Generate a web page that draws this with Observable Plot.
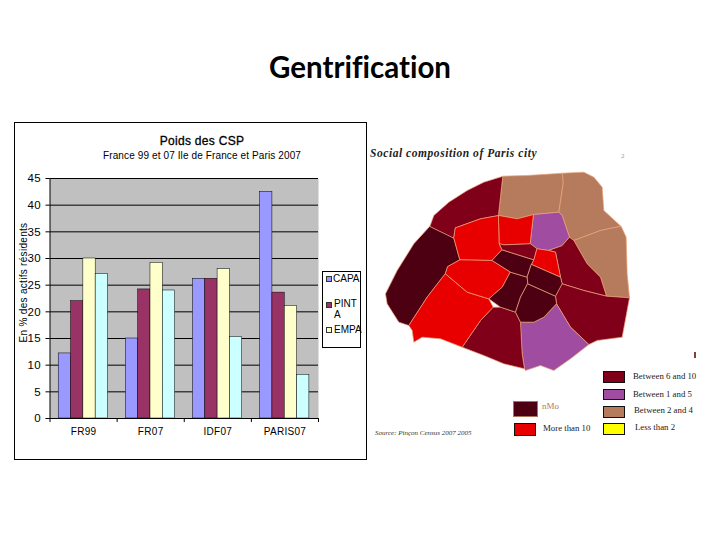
<!DOCTYPE html>
<html><head><meta charset="utf-8">
<script src="https://cdn.jsdelivr.net/npm/d3@7"></script>
<script src="https://cdn.jsdelivr.net/npm/@observablehq/plot@0.6"></script>
<style>
html,body{margin:0;padding:0;background:#fff;width:720px;height:540px;overflow:hidden;position:relative}
.t{position:absolute;white-space:nowrap;line-height:1}
.a{font-family:"Liberation Sans",Arial,sans-serif;color:#000}
.s{font-family:"Liberation Serif",serif;color:#222}
.box{position:absolute;box-sizing:border-box}
svg{display:block;background:transparent}
#chart,#map{position:absolute}
</style></head><body>
<div class="t" id="title" style="left:0;width:720px;text-align:center;top:49px;font:700 29.5px Lato,sans-serif;font-variant-ligatures:none;color:#000">Gentrification</div>
<div id="chart" style="left:14px;top:122px"></div>
<div id="map" style="left:370px;top:140px"></div>
<script>
// Bar chart data
const groups = ["FR99","FR07","IDF07","PARIS07"];
const seriesNames = ["CAPA","PINTA","EMPA","serie4"];
const capa = [12.2,15,26.2,42.5];
const pinta = [22,24.2,26.2,23.6];
const empa = [30,29.2,28,21.1];
const serie4 = [27.1,24,15.3,8.2];
const seriesColors = ["#9999ff","#993366","#ffffcc","#ccffff"];
const yTicks = [0,5,10,15,20,25,30,35,40,45];
const legendLabels = ["CAPA","PINT","A","EMPA"];

// Map data: arrondissement outlines, in the map image's own coordinates
const classes = {dark:"#7f0018",brown:"#b67b5c",purple:"#a04ca0",red:"#e80000",darkest:"#4d0012",yellow:"#ffff00"};
const d17 = [[178,258],[190,225],[235,185],[290,150],[340,125],[398,107],[385,225],[330,235],[255,262],[250,293]];
const d18 = [[398,107],[470,105],[577,98],[578,130],[565,215],[490,222],[440,235],[385,225]];
const d19 = [[577,98],[640,95],[670,110],[695,140],[700,210],[752,258],[690,270],[610,300],[597,290],[575,225],[565,215],[578,130]];
const d20 = [[752,258],[767,290],[770,400],[777,472],[708,467],[690,410],[650,370],[610,300],[690,270]];
const d16 = [[178,258],[250,293],[268,358],[232,378],[225,400],[170,470],[115,555],[85,545],[50,490],[45,460],[80,390],[130,310]];
const d8 = [[255,262],[330,235],[385,225],[387,310],[395,328],[365,360],[268,358],[250,293]];
const d9 = [[385,225],[440,235],[490,222],[480,310],[400,313],[387,310]];
const d10 = [[490,222],[565,215],[575,225],[597,290],[575,315],[535,330],[500,325],[480,310]];
const d11 = [[575,315],[597,290],[610,300],[650,370],[690,410],[708,467],[640,450],[575,430],[570,410],[555,335],[535,330]];
const d12 = [[575,430],[640,450],[708,467],[777,472],[755,590],[680,600],[655,612],[600,560],[558,490],[555,467]];
const d13 = [[450,545],[490,545],[520,530],[558,490],[600,560],[655,612],[600,655],[550,690],[510,675],[465,690],[462,685],[455,640]];
const d14 = [[368,500],[390,500],[435,515],[450,545],[455,640],[462,685],[400,670],[340,645],[275,620],[330,540]];
const d15 = [[225,400],[290,455],[355,475],[368,500],[330,540],[275,620],[210,595],[155,590],[130,605],[125,570],[115,555],[170,470]];
const d7 = [[232,378],[268,358],[365,360],[420,395],[395,440],[355,475],[290,455],[225,400]];
const d6 = [[420,395],[470,410],[472,430],[450,470],[435,515],[390,500],[355,475],[395,440]];
const d5 = [[472,430],[555,467],[558,490],[520,530],[490,545],[450,545],[435,515],[450,470]];
const d1 = [[395,328],[490,358],[483,372],[470,410],[420,395],[365,360]];
const d2 = [[387,310],[400,313],[480,310],[500,325],[490,358],[395,328]];
const d3 = [[500,325],[535,330],[555,335],[570,410],[483,372],[490,358]];
const d4 = [[483,372],[570,410],[575,430],[555,467],[472,430],[470,410]];
const districts = [[d17,"dark"],[d18,"brown"],[d19,"brown"],[d20,"brown"],[d16,"darkest"],[d8,"red"],[d9,"red"],[d10,"purple"],[d11,"dark"],[d12,"dark"],[d13,"purple"],[d14,"dark"],[d15,"red"],[d7,"red"],[d6,"darkest"],[d5,"darkest"],[d1,"darkest"],[d2,"dark"],[d3,"red"],[d4,"darkest"]];
const mapTitle = "Social composition of Paris city";
const mapSource = "Source: Pinçon Census 2007 2005";
const keyLabels = ["Between 6 and 10","Between 1 and 5","Between 2 and 4","Less than 2","More than 10"];

// Chart
const rows = groups.flatMap((g,i)=>[capa,pinta,empa,serie4].map((a,j)=>({g,i,j,v:a[i],name:seriesNames[j]})));
const off = 0.13, bw = 0.1835;
const chart = Plot.plot({
  width:352,height:337,
  marginLeft:35.5,marginRight:48,marginTop:56,marginBottom:41,
  style:{background:"transparent",overflow:"visible"},
  x:{domain:[0,4],axis:null},
  y:{domain:[0,45],axis:null},
  color:{domain:seriesNames,range:seriesColors},
  marks:[
    Plot.frame({fill:"#c0c0c0",stroke:null}),
    Plot.ruleY(yTicks,{stroke:"#000",strokeWidth:1}),
    Plot.rectY(rows,{x1:d=>d.i+off+d.j*bw,x2:d=>d.i+off+(d.j+1)*bw,y1:0,y2:"v",fill:"name",stroke:"#000",strokeWidth:0.5}),
    Plot.axisY({ticks:yTicks,anchor:"left",tickSize:4,label:null,fontSize:11.5,tickPadding:5,stroke:"#000",fill:"#000"}),
    Plot.ruleX([0],{stroke:"#000"}),
    Plot.ruleY([0],{stroke:"#000"}),
    Plot.ruleX([0,1,2,3,4],{x:d=>d,y1:-0.75,y2:0,stroke:"#000"}),
    Plot.text(groups,{x:(d,i)=>i+0.5,y:0,dy:13,text:d=>d,fontSize:10,fill:"#000",lineAnchor:"middle"}),
    Plot.text(["En % des actifs résidents"],{frameAnchor:"left",textAnchor:"middle",dx:-26,dy:-16,rotate:-90,fontSize:10,fill:"#000"})
  ]
});
chart.style.fontFamily='"Liberation Sans",Arial,sans-serif';
chart.querySelectorAll("text").forEach(t=>t.style.letterSpacing="0.3px");
document.getElementById("chart").append(chart);

// Map
const geo = {type:"FeatureCollection",features:districts.map(([c,k])=>({type:"Feature",properties:{k},geometry:{type:"Polygon",coordinates:[[...c,c[0]]]}}))};
const imageProjection = {stream:s=>({
  point(x,y){s.point(x/3,y/3)},sphere(){if(s.sphere)s.sphere()},
  lineStart(){s.lineStart()},lineEnd(){s.lineEnd()},
  polygonStart(){s.polygonStart()},polygonEnd(){s.polygonEnd()}
})};
const map = Plot.plot({
  width:270,height:240,margin:0,
  style:{background:"transparent"},
  projection:imageProjection,
  marks:[Plot.geo(geo,{fill:d=>classes[d.properties.k],stroke:"#e9a27a",strokeWidth:0.7})]
});
document.getElementById("map").append(map);

// Page furniture
function el(cls,txt,css){const d=document.createElement("div");d.className=cls;d.textContent=txt;d.style.cssText=css;document.body.append(d);return d;}
el("box","","left:14px;top:122px;width:353px;height:338px;border:1px solid #000");
el("t a","Poids des CSP","left:26px;width:352px;text-align:center;top:135px;font-size:12px;letter-spacing:.3px;-webkit-text-stroke:0.3px #000");
el("t a","France 99 et 07 Ile de France et Paris 2007","left:26px;width:352px;text-align:center;top:151px;font-size:10px;letter-spacing:.12px");
// chart legend
el("box","","left:322px;top:271px;width:39px;height:77px;border:1px solid #000;background:#fff");
[[seriesColors[0],276],[seriesColors[1],302],[seriesColors[2],327]].forEach(([c,y])=>el("box","",`left:326px;top:${y}px;width:6px;height:6px;border:.7px solid #333;background:${c}`));
el("t a",legendLabels[0],"left:333px;top:274px;font-size:10px");
el("t a",legendLabels[1],"left:334px;top:299px;font-size:10px");
el("t a",legendLabels[2],"left:334px;top:310px;font-size:10px");
el("t a",legendLabels[3],"left:334px;top:325px;font-size:10px");
// map text
el("t s",mapTitle,"left:370px;top:147px;font:italic 700 11.5px 'Liberation Serif',serif;letter-spacing:.55px;color:#222");
[[603,371,22,12,"dark"],[603,389,22,11,"purple"],[603,406,22,11.5,"brown"],[603,423,22,12,"yellow"],[514,423,21.5,12.5,"red"]].forEach(([x,y,w,h,k])=>el("box","",`left:${x}px;top:${y}px;width:${w}px;height:${h}px;border:1px solid #111;background:${classes[k]}`));
el("box","",`left:513px;top:401px;width:25px;height:16px;border:1px solid #a9745a;background:${classes.darkest}`);
[[keyLabels[0],633,372],[keyLabels[1],633,390],[keyLabels[2],634,406],[keyLabels[3],635,423],[keyLabels[4],543,424]].forEach(([t,x,y])=>el("t s",t,`left:${x}px;top:${y}px;font-size:8.8px;letter-spacing:0`));
el("t s","nMo","left:542px;top:402px;font-size:9px;color:#b67b5c");
el("t s","2","left:621px;top:153px;font-size:7px;color:#999");
el("box","","left:694px;top:352px;width:2px;height:6px;background:#7f4040");
el("t s",mapSource,"left:375px;top:429px;font:italic 7px 'Liberation Serif',serif;color:#333");
</script>
</body></html>
